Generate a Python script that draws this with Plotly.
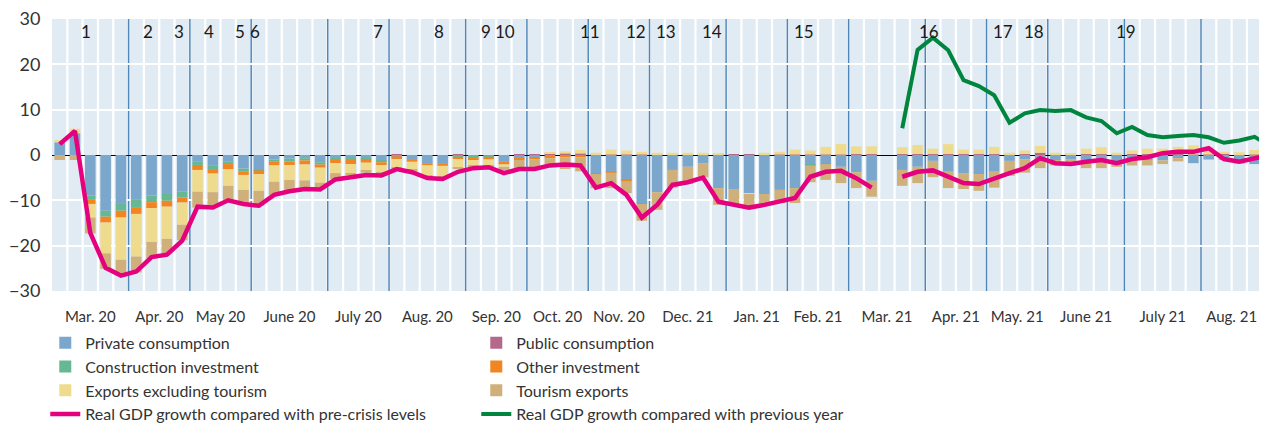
import plotly.graph_objects as go

# ---------------- data ----------------
months = ["Mar. 20", "Apr. 20", "May 20", "June 20", "July 20", "Aug. 20", "Sep. 20",
          "Oct. 20", "Nov. 20", "Dec. 21", "Jan. 21", "Feb. 21", "Mar. 21", "Apr. 21",
          "May. 21", "June 21", "July 21", "Aug. 21"]
month_weeks = [5, 4, 4, 5, 4, 5, 4, 4, 4, 5, 4, 4, 5, 4, 4, 5, 5, 4]

private = [
    2.8, 4.8, -8.9, -12.3, -10.8, -9.9, -8.9, -8.6, -8.1, -1.5,
    -2.4, -1.5, -3.0, -3.1, -1.0, -0.8, -0.7, -1.6, -0.7, -0.7,
    -0.7, -1.3, -0.3, -0.9, -1.8, -1.8, -0.2, -0.3, 0.0, -1.5,
    -0.7, -0.6, -0.3, -0.2, -0.2, -4.0, -3.7, -5.5, -10.6, -8.2,
    -3.3, -2.6, -1.8, -7.3, -7.5, -8.4, -8.6, -7.7, -7.3, -2.2,
    -1.8, -2.6, -3.8, -5.7, None, -3.3, -2.6, -1.3, -3.7, -4.0,
    -4.2, -3.7, -1.3, -1.0, -0.7, -1.1, -0.9, -1.1, -1.1, -1.5,
    -1.1, -1.1, -1.2, -0.7, -1.8, -1.0, -0.5, -1.5, -2.0, None]

public = [
    0, 0, 0, 0, 0, 0, 0, 0, 0, 0,
    0, 0, 0, 0, 0, 0, 0, 0, 0, 0,
    0, 0, 0.2, 0, 0, 0, 0.1, 0, 0, 0,
    0.2, 0.2, 0.4, 0.3, 0.3, 0.1, 0.1, 0.1, 0.1, 0.1,
    0.1, 0.1, 0.1, 0.1, 0.2, 0.2, 0.1, 0.1, 0.1, 0.1,
    0.1, 0.1, 0.2, 0.2, None, 0.2, 0.2, 0.2, 0.2, 0.2,
    0.2, 0.2, 0.2, 0.2, 0.5, 0.2, 0.2, 0.2, 0.2, 0.2,
    0.2, 0.2, 0.2, 0.2, 0.1, 0.1, 0.3, 0.2, 0.1, None]

construction = [
    0, 0, -1.0, -1.3, -1.5, -1.6, -1.5, -1.5, -1.3, -0.7,
    -0.7, -0.5, -0.7, -0.3, -0.5, -0.6, -0.5, -0.5, -0.4, -0.4,
    -0.3, -0.3, 0, 0, 0, 0, -0.2, -0.4, -0.4, 0,
    0, 0, 0, 0, 0, 0, 0, 0, 0, 0,
    0, 0, 0, 0, 0, 0, 0, 0, 0, -0.1,
    -0.2, 0, 0, 0, None, 0, 0, 0, 0, 0,
    0, 0, 0, 0, 0, 0, 0, 0, 0, 0,
    0, 0, 0, 0, 0, 0, 0, 0, 0, None]

other_inv = [
    0, 0, -0.9, -1.3, -1.5, -1.5, -1.3, -1.3, -1.1, -1.1,
    -1.0, -1.1, -0.7, -0.8, -0.8, -0.8, -0.9, -0.7, -0.7, -0.9,
    -0.7, -0.6, -0.6, -0.6, -0.5, -0.6, -0.5, -0.4, -0.6, -0.6,
    -0.4, -0.4, -0.4, -0.3, -0.3, -0.2, -0.2, -0.4, -0.2, 0,
    0, 0, 0, 0, 0, 0, 0, 0, 0, 0,
    0, 0, 0, 0, None, 0, 0, 0, 0, 0,
    0, 0, 0, 0, 0, 0, 0, 0, 0, 0,
    0, 0, 0, 0, 0, 0, 0, 0, 0, None]

exports = [
    0.5, 1.0, -3.0, -6.8, -9.3, -9.4, -7.5, -7.1, -4.9, -4.8,
    -4.1, -3.7, -3.3, -3.7, -3.6, -3.3, -3.5, -3.3, -2.2, -2.1,
    -1.8, -1.6, -1.8, -1.8, -2.2, -2.4, -1.9, -1.2, -1.3, -0.5,
    0, 0, 0.2, 0.5, 0.8, 0.4, 1.1, 0.9, 0.6, 0.4,
    0.4, 0.4, 0.4, 0.2, 0, -0.2, 0.4, 0.6, 1.1, 0.9,
    1.7, 2.3, 1.7, 1.7, None, 1.5, 2.0, 1.2, 2.2, 1.0,
    1.0, 1.6, 0.3, 0.8, 1.5, 0.3, 0.2, 1.2, 1.5, 0.3,
    0.8, 1.2, 1.2, 1.6, 2.0, 1.7, 0.4, 0.4, 1.0, None]

tourism = [
    -1.1, -1.1, -3.5, -3.4, -2.9, -3.5, -3.6, -3.3, -3.4, -3.5,
    -3.1, -3.1, -3.3, -3.3, -2.9, -2.6, -1.9, -1.4, -1.3, -0.3,
    -0.4, -0.2, -0.2, -0.4, -0.3, -0.3, -0.3, -0.3, -0.4, -0.8,
    -1.8, -2.0, -1.6, -2.6, -3.1, -3.1, -3.4, -2.5, -3.7, -3.9,
    -3.9, -3.8, -3.1, -3.7, -3.3, -2.7, -2.4, -2.9, -3.3, -3.7,
    -3.5, -3.6, -3.5, -3.5, None, -3.5, -3.6, -3.6, -3.6, -3.5,
    -3.7, -3.5, -3.3, -2.9, -2.2, -1.2, -1.4, -1.8, -1.8, -1.1,
    -1.2, -1.2, -0.8, -0.7, 0, 0, -0.6, -0.4, 0, None]

gdp_precrisis = [
    2.4, 5.3, -17.2, -24.9, -26.6, -25.7, -22.5, -22.0, -18.9, -11.4,
    -11.6, -10.0, -10.8, -11.2, -8.8, -8.0, -7.5, -7.6, -5.4, -4.8,
    -4.4, -4.5, -3.1, -3.8, -5.1, -5.3, -3.7, -2.9, -2.7, -4.0,
    -3.1, -3.1, -2.3, -2.1, -2.3, -7.2, -6.2, -8.8, -13.8, -11.0,
    -6.6, -6.0, -5.0, -10.3, -11.0, -11.6, -11.0, -10.3, -9.5, -4.8,
    -3.7, -3.5, -5.1, -7.2, None, -4.8, -3.7, -3.4, -4.8, -6.2,
    -6.4, -5.1, -4.0, -2.9, -0.7, -1.8, -2.0, -1.5, -1.1, -1.8,
    -0.9, -0.5, 0.4, 0.7, 0.7, 1.5, -0.9, -1.5, -0.7, 0.0]

gdp_prev_year = [None] * 55 + [
    5.9, 23.2, 25.9, 23.1, 16.5, 15.2, 13.2, 7.1, 9.2, 9.9,
    9.7, 9.9, 8.3, 7.5, 4.8, 6.2, 4.4, 3.9, 4.2, 4.4,
    3.9, 2.7, 3.2, 4.0, 2.0]

event_labels = [str(i) for i in range(1, 20)]
event_weeks = [1.72, 5.76, 7.79, 9.75, 11.77, 12.75, 20.78, 24.76, 27.83, 29.05,
               34.6, 37.6, 39.6, 42.6, 48.6, 56.75, 61.57, 63.6, 69.6]

weeks = list(range(len(gdp_precrisis)))

# ---------------- styling ----------------
FONT = "Lato"
bar_series = [
    ("Private consumption", private, "#7ba7cc"),
    ("Public consumption", public, "#b5698a"),
    ("Construction investment", construction, "#66b894"),
    ("Other investment", other_inv, "#f08522"),
    ("Exports excluding tourism", exports, "#efdb8d"),
    ("Tourism exports", tourism, "#cfb07a"),
]

fig = go.Figure()
for name, vals, col in bar_series:
    fig.add_trace(go.Bar(x=weeks, y=vals, name=name, marker=dict(color=col, line=dict(width=0))))

fig.add_trace(go.Scatter(x=weeks, y=gdp_precrisis, name="Real GDP growth compared with pre-crisis levels",
                         mode="lines", line=dict(color="#e5007d", width=4.5), connectgaps=False))
fig.add_trace(go.Scatter(x=weeks, y=gdp_prev_year, name="Real GDP growth compared with previous year",
                         mode="lines", line=dict(color="#00853e", width=4), connectgaps=False))

# month centres / boundaries from week counts
starts = []
acc = 0
for n in month_weeks:
    starts.append(acc)
    acc += n
centers = [s + (n - 1) / 2 for s, n in zip(starts, month_weeks)]
month_bounds = [s - 0.5 for s in starts[1:]]
n_weeks = acc

shapes = []
for i in range(n_weeks + 1):
    shapes.append(dict(type="line", xref="x", yref="paper", x0=i + 0.5, x1=i + 0.5, y0=0, y1=1,
                       line=dict(color="white", width=2.2), layer="below"))
for b in month_bounds:
    shapes.append(dict(type="line", xref="x", yref="paper", x0=b, x1=b, y0=0, y1=1,
                       line=dict(color="#4f86b8", width=1.5), layer="between"))

annotations = []
for lab, w in zip(event_labels, event_weeks):
    annotations.append(dict(x=w, y=27.3, xref="x", yref="y", text=lab, showarrow=False,
                            font=dict(family=FONT, size=17, color="#1a1a1a")))

# the page body adds an 8 px offset; margins compensate for it
fig.update_layout(
    width=1267, height=423,
    margin=dict(l=44, r=0, t=11, b=140, autoexpand=False),
    plot_bgcolor="#e1ebf4", paper_bgcolor="white",
    barmode="relative", bargap=0.31,
    font=dict(family=FONT, color="#333333"),
    shapes=shapes, annotations=annotations,
    showlegend=True,
    legend=dict(orientation="h", x=-0.0055, xanchor="left", y=-0.128, yanchor="top",
                entrywidth=386, entrywidthmode="pixels", traceorder="normal",
                font=dict(family=FONT, size=16, color="#333333"), itemwidth=30,
                bgcolor="rgba(0,0,0,0)"),
    xaxis=dict(range=[-0.5, 79.33], tickmode="array", tickvals=centers, ticktext=months,
               showgrid=False, zeroline=False, showline=False, automargin=False,
               ticks="outside", ticklen=12, tickcolor="rgba(0,0,0,0)",
               ticklabeloverflow="allow",
               tickfont=dict(family=FONT, size=15, color="#333333")),
    yaxis=dict(range=[-30, 30], tickmode="array", tickvals=[-30, -20, -10, 0, 10, 20, 30],
               showgrid=True, gridcolor="white", gridwidth=2, automargin=False,
               zeroline=True, zerolinecolor="#000000", zerolinewidth=1.3,
               ticks="outside", ticklen=7, tickcolor="rgba(0,0,0,0)",
               ticklabeloverflow="allow",
               tickfont=dict(family=FONT, size=18, color="#333333")),
)

fig.write_html("out.html")
